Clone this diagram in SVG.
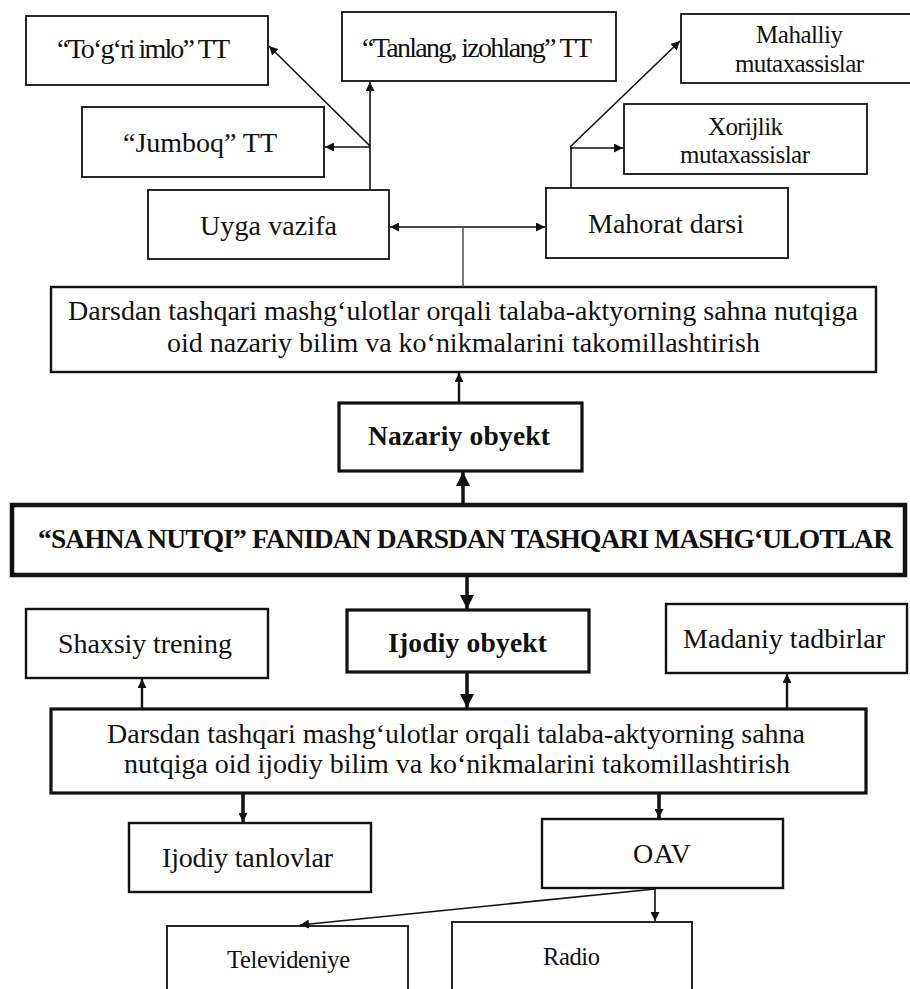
<svg xmlns="http://www.w3.org/2000/svg" width="910" height="989" viewBox="0 0 910 989">
<style>
text{font-family:"Liberation Serif","DejaVu Serif","Noto Serif",serif;fill:#111;text-anchor:middle}
.t{font-size:28px}
.s{font-size:25px}
.x{font-size:24.5px}
.b{font-size:27.5px;font-weight:bold}
.box{fill:#fff;stroke:#111;stroke-width:1.8}
.box2{fill:#fff;stroke:#111;stroke-width:2.4}
.boxb{fill:#fff;stroke:#111;stroke-width:3.2}
.boxm{fill:#fff;stroke:#111;stroke-width:4.5}
.c{fill:none;stroke:#111;stroke-width:1.6}
.cm{fill:none;stroke:#111;stroke-width:2.4}
.ck{fill:none;stroke:#111;stroke-width:3.5}
.cg{fill:none;stroke:#444;stroke-width:1.4}
</style>
<defs>
<marker id="a" viewBox="0 0 10 10" refX="10" refY="5" markerWidth="9" markerHeight="9" markerUnits="userSpaceOnUse" orient="auto-start-reverse"><path d="M0,0L10,5L0,10z" fill="#111"/></marker>
<marker id="ak" viewBox="0 0 10 10" refX="10" refY="5" markerWidth="14" markerHeight="14" markerUnits="userSpaceOnUse" orient="auto"><path d="M0,0L10,5L0,10z" fill="#111"/></marker>
</defs>

<g id="n-togri"><rect class="box" x="26" y="16" width="242" height="69"/><text class="t" x="143.5" y="58" textLength="173">“To‘g‘ri imlo” TT</text></g>
<g id="n-tanlang"><rect class="box" x="342" y="12" width="274" height="69"/><text class="t" x="477" y="57" textLength="230">“Tanlang, izohlang” TT</text></g>
<g id="n-mahalliy"><rect class="box" x="681" y="14" width="232" height="69"/><text class="s" x="799.5" y="43" textLength="87">Mahalliy</text><text class="s" x="799.5" y="72" textLength="129">mutaxassislar</text></g>
<g id="n-xorijlik"><rect class="box" x="624" y="104" width="243" height="70"/><text class="s" x="745.5" y="135" textLength="75">Xorijlik</text><text class="s" x="745" y="163" textLength="130">mutaxassislar</text></g>
<g id="n-jumboq"><rect class="box" x="82" y="107" width="242" height="70"/><text class="t" x="200" y="152" textLength="154">“Jumboq” TT</text></g>
<g id="n-uyga"><rect class="box" x="148" y="190" width="241" height="69"/><text class="t" x="268.5" y="235" textLength="137">Uyga vazifa</text></g>
<g id="n-mahorat"><rect class="box" x="546" y="188" width="242" height="70"/><text class="t" x="666" y="233" textLength="156">Mahorat darsi</text></g>
<g id="n-nazariy-maqsad"><rect class="box2" x="51" y="287" width="825" height="85"/><text class="t" x="463" y="320" textLength="790">Darsdan tashqari mashg‘ulotlar orqali talaba-aktyorning sahna nutqiga</text><text class="t" x="463.5" y="352" textLength="593">oid nazariy bilim va ko‘nikmalarini takomillashtirish</text></g>
<g id="n-nazariy"><rect class="boxb" x="339" y="403" width="243" height="68"/><text class="b" x="459" y="445" textLength="182">Nazariy obyekt</text></g>
<g id="n-main"><rect class="boxm" x="12" y="505" width="893" height="70"/><text class="b" x="465.5" y="548" textLength="855">“SAHNA NUTQI” FANIDAN DARSDAN TASHQARI MASHG‘ULOTLAR</text></g>
<g id="n-ijodiy"><rect class="boxb" x="347" y="610" width="242" height="62"/><text class="b" x="467.5" y="652" textLength="159">Ijodiy obyekt</text></g>
<g id="n-shaxsiy"><rect class="box2" x="26" y="609" width="242" height="69"/><text class="t" x="145" y="653" textLength="174">Shaxsiy trening</text></g>
<g id="n-madaniy"><rect class="box2" x="666" y="604" width="241" height="69"/><text class="t" x="784" y="648" textLength="202">Madaniy tadbirlar</text></g>
<g id="n-ijodiy-maqsad"><rect class="boxb" x="51" y="709" width="815" height="84"/><text class="t" x="456" y="743" textLength="698">Darsdan tashqari mashg‘ulotlar orqali talaba-aktyorning sahna</text><text class="t" x="457" y="773" textLength="666">nutqiga oid ijodiy bilim va ko‘nikmalarini takomillashtirish</text></g>
<g id="n-tanlovlar"><rect class="box2" x="129" y="823" width="242" height="69"/><text class="t" x="247.5" y="867" textLength="171">Ijodiy tanlovlar</text></g>
<g id="n-oav"><rect class="box2" x="542" y="819" width="241" height="69"/><text class="t" x="662" y="863" textLength="58">OAV</text></g>
<g id="n-tv"><rect class="box" x="167" y="926" width="241" height="80"/><text class="x" x="288.5" y="968" textLength="123">Televideniye</text></g>
<g id="n-radio"><rect class="box" x="452" y="922" width="240" height="80"/><text class="x" x="571.5" y="965" textLength="57">Radio</text></g>

<g id="connectors">
<path class="c" d="M370,190V82" marker-end="url(#a)"/>
<path class="c" d="M370,146L269,46" marker-end="url(#a)"/>
<path class="c" d="M370,147H325" marker-end="url(#a)"/>
<path class="c" d="M390,227H545" marker-start="url(#a)" marker-end="url(#a)"/>
<path class="cg" d="M463,287V227"/>
<path class="c" d="M571,188V147"/>
<path class="c" d="M570,147L680,41" marker-end="url(#a)"/>
<path class="c" d="M570,148H623" marker-end="url(#a)"/>
<path class="cm" d="M459,403V373" marker-end="url(#a)"/>
<path class="ck" d="M463,505V472" marker-end="url(#ak)"/>
<path class="ck" d="M467,575V609" marker-end="url(#ak)"/>
<path class="ck" d="M467,672V708" marker-end="url(#ak)"/>
<path class="cm" d="M142,709V679" marker-end="url(#a)"/>
<path class="cm" d="M787,709V674" marker-end="url(#a)"/>
<path class="ck" d="M243,793V822" marker-end="url(#a)"/>
<path class="ck" d="M659,793V818" marker-end="url(#a)"/>
<path class="c" d="M655,889V921" marker-end="url(#a)"/>
<path class="c" d="M655,889L300,925" marker-end="url(#a)"/>
</g>
</svg>
